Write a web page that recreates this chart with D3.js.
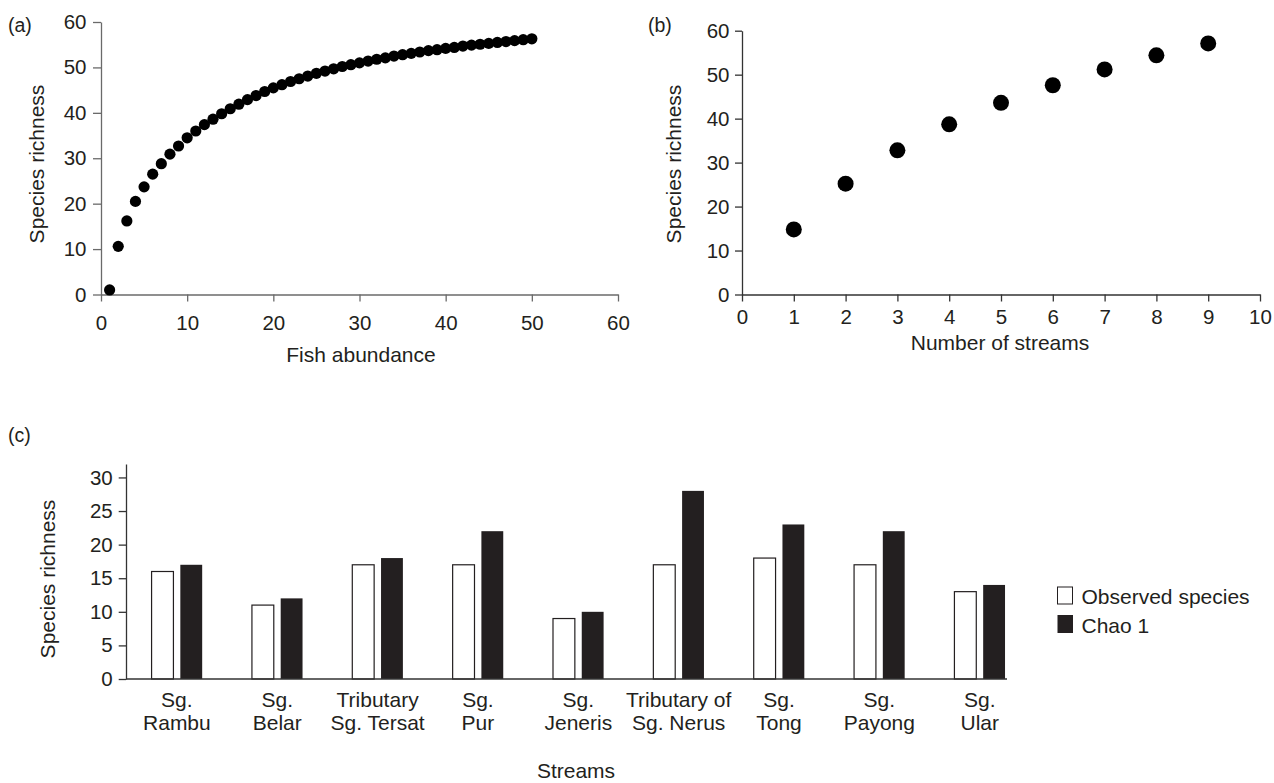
<!DOCTYPE html>
<html><head><meta charset="utf-8">
<script src="https://cdn.jsdelivr.net/npm/d3@7"></script>
<style>
html,body{margin:0;padding:0;background:#fff;}
svg{display:block;font-family:"Liberation Sans",Arial,sans-serif;}
.tick text{fill:#231f20;}
</style></head>
<body><svg id="chart" width="1274" height="783"></svg>
<script>
// ---- Data ----
const abundance = d3.range(1, 51); // fish abundance 1..50
const richnessA = [1.0,10.6,16.2,20.5,23.7,26.5,28.8,30.9,32.7,34.5,
  36.0,37.4,38.6,39.8,40.9,41.9,42.9,43.8,44.7,45.5,
  46.2,46.9,47.5,48.1,48.7,49.2,49.7,50.2,50.6,51.0,
  51.4,51.8,52.1,52.5,52.8,53.1,53.4,53.7,53.9,54.2,
  54.4,54.7,54.9,55.1,55.3,55.5,55.7,55.9,56.1,56.3];
const streamsCount = [1,2,3,4,5,6,7,8,9];
const richnessB = [14.8,25.2,32.8,38.7,43.6,47.6,51.2,54.4,57.1];
const streamLabels = [["Sg.","Rambu"],["Sg.","Belar"],["Tributary","Sg. Tersat"],["Sg.","Pur"],
  ["Sg.","Jeneris"],["Tributary of","Sg. Nerus"],["Sg.","Tong"],["Sg.","Payong"],["Sg.","Ular"]];
const observed = [16,11,17,17,9,17,18,17,13];
const chao1 = [17,12,18,22,10,28,23,22,14];
const seriesNames = ["Observed species","Chao 1"];
const ticksA = [0,10,20,30,40,50,60];
const ticksB_x = [0,1,2,3,4,5,6,7,8,9,10];
const ticksB_y = [0,10,20,30,40,50,60];
const ticksC_y = [0,5,10,15,20,25,30];

const svg = d3.select("#chart");
const ink = "#231f20";
const tickFont = 20.5, titleFont = 21;

function styleAxis(g, color){
  g.select(".domain").attr("stroke", color).attr("stroke-width", 1.3);
  g.selectAll(".tick line").attr("stroke", color).attr("stroke-width", 1.3);
  g.selectAll(".tick text").attr("font-size", tickFont).attr("fill", ink);
}

// ---- Panel (a) ----
const xA = d3.scaleLinear().domain([0,60]).range([101,618]);
const yA = d3.scaleLinear().domain([0,60]).range([294.5,22]);
svg.append("g").attr("transform","translate(0,294.5)")
  .call(d3.axisBottom(xA).tickValues(ticksA).tickSize(7).tickPadding(14).tickSizeOuter(0))
  .call(g=>styleAxis(g,"#6a6a6a"));
svg.append("g").attr("transform","translate(101,0)")
  .call(d3.axisLeft(yA).tickValues(ticksA).tickSize(8).tickPadding(6.5).tickSizeOuter(0))
  .call(g=>styleAxis(g,"#6a6a6a"));
svg.append("g").selectAll("circle").data(abundance).join("circle")
  .attr("cx",(d)=>xA(d)).attr("cy",(d,i)=>yA(richnessA[i])).attr("r",5.6).attr("fill","#000");
svg.append("text").attr("x",8).attr("y",32).attr("font-size",19.5).attr("fill",ink).text("(a)");
svg.append("text").attr("transform","translate(44,164) rotate(-90)").attr("text-anchor","middle")
  .attr("font-size",titleFont).attr("fill",ink).text("Species richness");
svg.append("text").attr("x",361).attr("y",362).attr("text-anchor","middle")
  .attr("font-size",titleFont).attr("fill",ink).text("Fish abundance");

// ---- Panel (b) ----
const xB = d3.scaleLinear().domain([0,10]).range([742,1260]);
const yB = d3.scaleLinear().domain([0,60]).range([294.5,30.7]);
svg.append("g").attr("transform","translate(0,294.5)")
  .call(d3.axisBottom(xB).tickValues(ticksB_x).tickSize(7).tickPadding(7.5).tickSizeOuter(0))
  .call(g=>styleAxis(g,"#333"));
svg.append("g").attr("transform","translate(742,0)")
  .call(d3.axisLeft(yB).tickValues(ticksB_y).tickSize(7).tickPadding(5.5).tickSizeOuter(0))
  .call(g=>styleAxis(g,"#333"));
svg.append("g").selectAll("circle").data(streamsCount).join("circle")
  .attr("cx",(d)=>xB(d)).attr("cy",(d,i)=>yB(richnessB[i])).attr("r",8).attr("fill","#000");
svg.append("text").attr("x",648).attr("y",32).attr("font-size",19.5).attr("fill",ink).text("(b)");
svg.append("text").attr("transform","translate(681,164) rotate(-90)").attr("text-anchor","middle")
  .attr("font-size",titleFont).attr("fill",ink).text("Species richness");
svg.append("text").attr("x",1000).attr("y",350).attr("text-anchor","middle")
  .attr("font-size",titleFont).attr("fill",ink).text("Number of streams");

// ---- Panel (c) ----
const xC = d3.scaleBand().domain(d3.range(streamLabels.length)).range([126.7,1029.9]);
const xSub = d3.scaleBand().domain([0,1]).range([-25.3,25.3]).paddingInner(0.24);
const yC = d3.scaleLinear().domain([0,32]).range([679,464]);
svg.append("g").attr("transform","translate(126,0)")
  .call(d3.axisLeft(yC).tickValues(ticksC_y).tickSize(7.3).tickPadding(6).tickSizeOuter(0))
  .call(g=>styleAxis(g,"#333"));
const groups = svg.append("g").selectAll("g").data(d3.range(streamLabels.length)).join("g")
  .attr("transform",(i)=>`translate(${xC(i)+xC.bandwidth()/2},0)`);
groups.append("rect").attr("x",xSub(0)).attr("width",xSub.bandwidth())
  .attr("y",(i)=>yC(observed[i])).attr("height",(i)=>yC(0)-yC(observed[i]))
  .attr("fill","#fff").attr("stroke",ink).attr("stroke-width",1.2);
groups.append("rect").attr("x",xSub(1)).attr("width",xSub.bandwidth())
  .attr("y",(i)=>yC(chao1[i])).attr("height",(i)=>yC(0)-yC(chao1[i]))
  .attr("fill",ink);
const lab = groups.append("text").attr("text-anchor","middle").attr("font-size",21).attr("fill",ink);
lab.append("tspan").attr("x",0).attr("y",707).text((i)=>streamLabels[i][0]);
lab.append("tspan").attr("x",0).attr("y",729.5).text((i)=>streamLabels[i][1]);
// category axis line (no ticks)
svg.append("line").attr("x1",126).attr("x2",1007).attr("y1",yC(0)).attr("y2",yC(0))
  .attr("stroke","#333").attr("stroke-width",1.6);
svg.append("text").attr("x",8).attr("y",442).attr("font-size",19.5).attr("fill",ink).text("(c)");
svg.append("text").attr("transform","translate(55,579) rotate(-90)").attr("text-anchor","middle")
  .attr("font-size",titleFont).attr("fill",ink).text("Species richness");
svg.append("text").attr("x",576).attr("y",778).attr("text-anchor","middle")
  .attr("font-size",titleFont).attr("fill",ink).text("Streams");

// legend
const leg = svg.append("g").attr("transform","translate(1057.5,587)");
leg.append("rect").attr("x",0).attr("y",0).attr("width",15).attr("height",17)
  .attr("fill","#fff").attr("stroke",ink).attr("stroke-width",1);
leg.append("rect").attr("x",0).attr("y",28).attr("width",15.5).attr("height",18).attr("fill",ink);
leg.append("text").attr("x",24).attr("y",16.5).attr("font-size",21).attr("fill",ink).text(seriesNames[0]);
leg.append("text").attr("x",24).attr("y",45.7).attr("font-size",21).attr("fill",ink).text(seriesNames[1]);
</script></body></html>
